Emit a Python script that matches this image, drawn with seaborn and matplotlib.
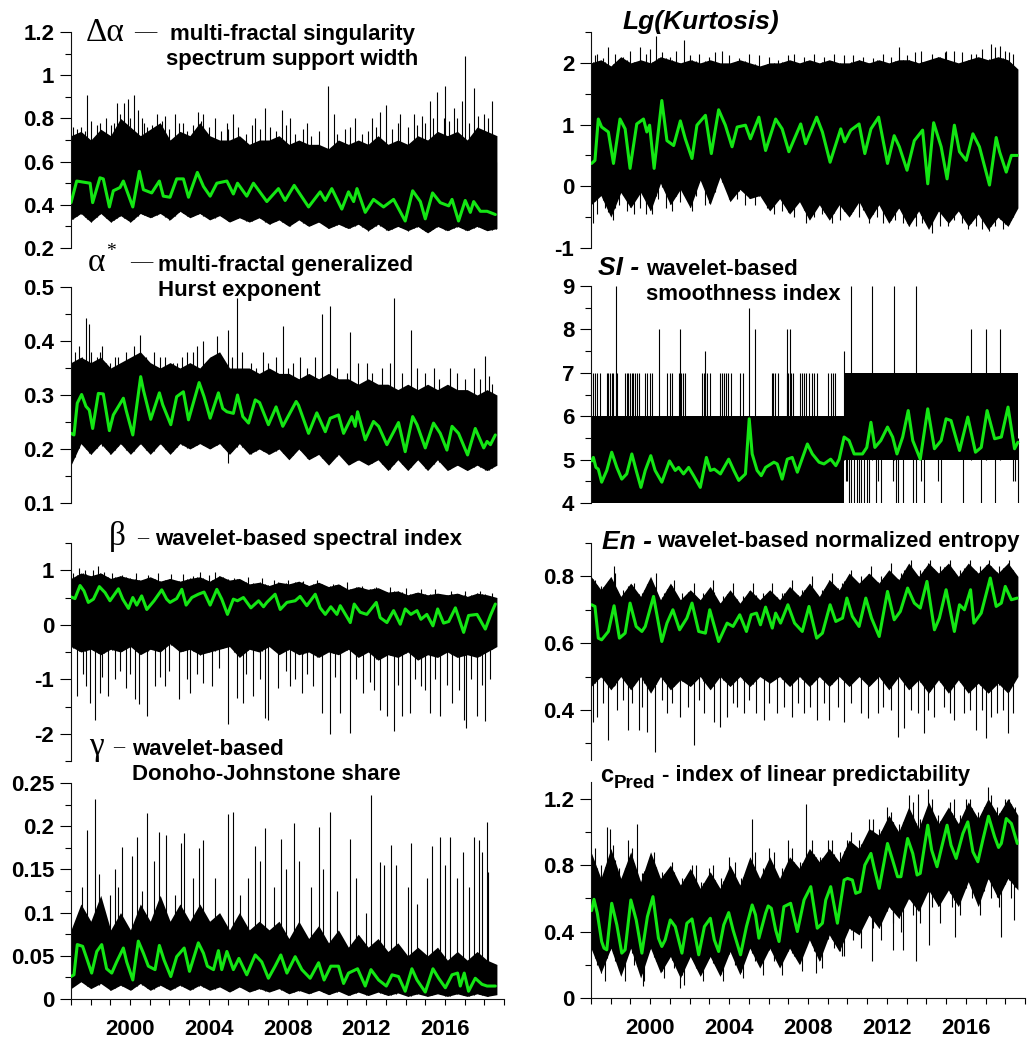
import numpy as np
import matplotlib
matplotlib.use("Agg")
import matplotlib.pyplot as plt
from matplotlib.ticker import MultipleLocator, FuncFormatter
import seaborn as sns

# envelope grid (about half-year steps over the data span)
env_x = np.linspace(1997.0, 2018.64, 44)

# ---------- Δα ----------
da_hi = [0.72, 0.74, 0.70, 0.75, 0.72, 0.80, 0.76, 0.72, 0.75, 0.78, 0.70,
         0.74, 0.72, 0.78, 0.72, 0.70, 0.70, 0.72, 0.68, 0.70, 0.70, 0.72,
         0.68, 0.70, 0.68, 0.68, 0.66, 0.70, 0.68, 0.70, 0.68, 0.72, 0.68,
         0.70, 0.68, 0.72, 0.70, 0.74, 0.72, 0.74, 0.70, 0.76, 0.74, 0.72]
da_lo = [0.33, 0.36, 0.32, 0.36, 0.32, 0.35, 0.32, 0.36, 0.34, 0.36, 0.33,
         0.37, 0.34, 0.36, 0.33, 0.35, 0.32, 0.34, 0.32, 0.34, 0.31, 0.33,
         0.30, 0.33, 0.30, 0.32, 0.29, 0.31, 0.29, 0.31, 0.28, 0.31, 0.28,
         0.30, 0.28, 0.30, 0.27, 0.30, 0.28, 0.30, 0.28, 0.30, 0.28, 0.29]
da_gx = [1997.00, 1997.29, 1997.97, 1998.10, 1998.47, 1998.64, 1998.95, 1999.15, 1999.49, 1999.66,
         2000.14, 2000.47, 2000.68, 2001.10, 2001.49, 2001.69, 2002.03, 2002.37, 2002.71, 2002.97,
         2003.42, 2003.73, 2004.07, 2004.41, 2004.92, 2005.25, 2005.46, 2005.93, 2006.27, 2006.95,
         2007.54, 2007.88, 2008.34, 2009.07, 2009.66, 2009.92, 2010.25, 2010.76, 2011.10, 2011.36,
         2011.53, 2011.95, 2012.37, 2012.88, 2013.39, 2013.98, 2014.36, 2014.75, 2015.00, 2015.37,
         2015.76, 2016.19, 2016.36, 2016.69, 2017.03, 2017.29, 2017.46, 2017.80, 2018.14, 2018.56]
da_gy = [0.41, 0.51, 0.50, 0.41, 0.525, 0.52, 0.39, 0.465, 0.48, 0.51,
         0.39, 0.555, 0.47, 0.455, 0.51, 0.44, 0.435, 0.52, 0.52, 0.435,
         0.55, 0.485, 0.44, 0.50, 0.51, 0.45, 0.50, 0.44, 0.50, 0.415,
         0.475, 0.42, 0.49, 0.39, 0.46, 0.42, 0.475, 0.38, 0.46, 0.415,
         0.475, 0.365, 0.425, 0.39, 0.425, 0.325, 0.465, 0.415, 0.335, 0.455,
         0.41, 0.395, 0.425, 0.325, 0.42, 0.365, 0.415, 0.37, 0.37, 0.355]
da_up_x = [1997.49, 1997.83, 1998.47, 1999.03, 1999.32, 1999.69, 1999.88, 2000.20, 2000.59, 2000.85,
           2001.36, 2001.78, 2002.29, 2002.68, 2003.47, 2003.73, 2004.32, 2004.92, 2005.25, 2006.36,
           2006.86, 2007.71, 2008.14, 2008.98, 2010.05, 2010.34, 2011.44, 2012.29, 2012.71, 2013.02,
           2013.73, 2014.41, 2014.83, 2015.25, 2015.59, 2015.93, 2016.02, 2016.44, 2016.86, 2017.03,
           2017.46, 2017.97, 2018.39,
           1997.10, 1997.30, 1997.70, 1998.00, 1998.30, 1998.80, 1999.20, 1999.50, 2000.00, 2000.40,
           2000.70, 2001.10, 2001.60, 2002.00, 2002.50, 2002.90, 2003.20, 2003.60, 2004.00, 2004.60,
           2005.00, 2005.50, 2005.90, 2006.20, 2006.60, 2007.10, 2007.40, 2007.90, 2008.40, 2008.80,
           2009.20, 2009.60, 2010.50, 2010.90, 2011.20, 2011.80, 2012.10, 2012.50, 2013.30, 2013.60,
           2014.10, 2014.60, 2015.00, 2015.40, 2016.20, 2016.60, 2017.20, 2017.70, 2018.20, 2018.60]
da_up_y = [0.76, 0.91, 0.78, 0.77, 0.87, 0.87, 0.89, 0.91, 0.80, 0.76,
           0.82, 0.81, 0.82, 0.78, 0.83, 0.82, 0.80, 0.78, 0.82, 0.80,
           0.85, 0.84, 0.80, 0.78, 0.95, 0.82, 0.80, 0.80, 0.83, 0.86,
           0.82, 0.82, 0.81, 0.88, 0.92, 0.80, 0.95, 0.85, 0.88, 1.09,
           0.94, 0.82, 0.88,
           0.76, 0.75, 0.74, 0.79, 0.77, 0.80, 0.78, 0.82, 0.80, 0.84,
           0.78, 0.77, 0.79, 0.75, 0.78, 0.74, 0.77, 0.79, 0.76, 0.74,
           0.75, 0.76, 0.73, 0.77, 0.75, 0.76, 0.74, 0.77, 0.73, 0.75,
           0.72, 0.74, 0.73, 0.75, 0.76, 0.73, 0.74, 0.76, 0.75, 0.78,
           0.76, 0.77, 0.78, 0.80, 0.79, 0.80, 0.78, 0.81, 0.80, 0.60]

# ---------- α* ----------
as_hi = [0.36, 0.37, 0.36, 0.37, 0.35, 0.36, 0.37, 0.38, 0.36, 0.35, 0.36,
         0.35, 0.36, 0.35, 0.37, 0.38, 0.35, 0.35, 0.35, 0.34, 0.35, 0.34,
         0.34, 0.33, 0.34, 0.33, 0.34, 0.33, 0.33, 0.32, 0.33, 0.32, 0.32,
         0.31, 0.32, 0.31, 0.32, 0.31, 0.32, 0.31, 0.31, 0.30, 0.31, 0.30]
as_lo = [0.17, 0.21, 0.19, 0.21, 0.19, 0.21, 0.19, 0.21, 0.19, 0.21, 0.19,
         0.21, 0.20, 0.21, 0.20, 0.21, 0.19, 0.21, 0.19, 0.20, 0.19, 0.20,
         0.18, 0.20, 0.18, 0.19, 0.17, 0.19, 0.17, 0.18, 0.17, 0.18, 0.16,
         0.18, 0.16, 0.18, 0.16, 0.18, 0.16, 0.17, 0.16, 0.17, 0.16, 0.17]
as_gx = [1997.00, 1997.15, 1997.32, 1997.54, 1997.76, 1997.93, 1998.10, 1998.39, 1998.64, 1998.95,
         1999.15, 1999.66, 1999.80, 2000.14, 2000.54, 2000.68, 2001.05, 2001.49, 2001.66, 2002.07,
         2002.37, 2002.71, 2002.97, 2003.51, 2003.76, 2004.07, 2004.49, 2004.71, 2004.92, 2005.25,
         2005.46, 2005.73, 2006.02, 2006.36, 2006.58, 2007.03, 2007.42, 2007.76, 2008.44, 2008.56,
         2009.07, 2009.49, 2009.92, 2010.17, 2010.59, 2010.85, 2011.27, 2011.44, 2011.56, 2011.95,
         2012.37, 2012.63, 2013.05, 2013.64, 2013.98, 2014.36, 2014.58, 2015.00, 2015.42, 2015.76,
         2016.10, 2016.36, 2016.69, 2017.15, 2017.54, 2017.97, 2018.14, 2018.31, 2018.56]
as_gy = [0.229, 0.226, 0.285, 0.301, 0.279, 0.272, 0.238, 0.303, 0.302, 0.234,
         0.263, 0.294, 0.272, 0.226, 0.334, 0.309, 0.255, 0.304, 0.282, 0.245,
         0.297, 0.306, 0.254, 0.323, 0.297, 0.257, 0.304, 0.275, 0.269, 0.266,
         0.300, 0.260, 0.248, 0.291, 0.286, 0.245, 0.278, 0.242, 0.288, 0.281,
         0.229, 0.267, 0.232, 0.257, 0.263, 0.229, 0.260, 0.242, 0.269, 0.217,
         0.251, 0.242, 0.208, 0.249, 0.195, 0.260, 0.245, 0.202, 0.248, 0.229,
         0.198, 0.242, 0.229, 0.189, 0.238, 0.202, 0.214, 0.208, 0.226]
as_up_x = [1997.54, 1997.76, 1997.93, 1998.47, 1998.78, 1999.24, 1999.53, 2000.51, 2001.53, 2002.20,
           2002.63, 2003.39, 2004.44, 2005.00, 2005.42, 2006.14, 2006.78, 2007.76, 2008.64, 2009.75,
           2010.17, 2011.19, 2012.03, 2013.42, 2014.27, 2015.42, 2016.27, 2017.46, 2018.05, 2018.22,
           1997.20, 1997.40, 1998.00, 1998.30, 1998.60, 1999.00, 1999.40, 1999.80, 2000.20, 2000.80,
           2001.20, 2001.80, 2002.40, 2002.90, 2003.20, 2003.70, 2004.10, 2004.70, 2005.20, 2005.70,
           2006.40, 2007.00, 2007.40, 2008.00, 2008.30, 2009.00, 2009.40, 2010.50, 2011.00, 2011.60,
           2012.30, 2012.80, 2013.20, 2013.80, 2014.60, 2015.00, 2015.70, 2016.60, 2017.00, 2017.80,
           2018.40]
as_up_y = [0.37, 0.443, 0.432, 0.38, 0.36, 0.37, 0.36, 0.412, 0.37, 0.36,
           0.37, 0.39, 0.41, 0.42, 0.48, 0.36, 0.38, 0.427, 0.37, 0.45,
           0.464, 0.417, 0.36, 0.48, 0.42, 0.35, 0.35, 0.35, 0.372, 0.335,
           0.38, 0.39, 0.38, 0.37, 0.39, 0.36, 0.37, 0.38, 0.39, 0.37,
           0.38, 0.37, 0.36, 0.38, 0.38, 0.40, 0.37, 0.36, 0.37, 0.38,
           0.35, 0.36, 0.37, 0.35, 0.36, 0.35, 0.37, 0.35, 0.34, 0.36,
           0.34, 0.35, 0.36, 0.34, 0.35, 0.34, 0.33, 0.34, 0.33, 0.33,
           0.32]
as_dn_x = [2005.00]
as_dn_y = [0.174]

# ---------- β ----------
be_hi = [0.85, 0.95, 0.90, 0.95, 0.85, 0.90, 0.85, 0.82, 0.88, 0.80, 0.85,
         0.80, 0.85, 0.88, 0.80, 0.90, 0.82, 0.85, 0.75, 0.78, 0.72, 0.78,
         0.75, 0.80, 0.72, 0.78, 0.70, 0.75, 0.65, 0.70, 0.65, 0.68, 0.60,
         0.62, 0.55, 0.60, 0.55, 0.58, 0.55, 0.58, 0.52, 0.58, 0.55, 0.50]
be_lo = [-0.40, -0.50, -0.45, -0.55, -0.45, -0.50, -0.40, -0.55, -0.45, -0.50, -0.35,
         -0.50, -0.45, -0.55, -0.50, -0.45, -0.40, -0.60, -0.45, -0.50, -0.40, -0.55,
         -0.45, -0.55, -0.50, -0.60, -0.50, -0.55, -0.45, -0.60, -0.50, -0.65, -0.55,
         -0.60, -0.50, -0.65, -0.55, -0.60, -0.50, -0.60, -0.55, -0.60, -0.50, -0.40]
be_gx = [1997.00, 1997.20, 1997.46, 1997.66, 1997.88, 1998.14, 1998.44, 1998.73, 1998.98, 1999.41,
         1999.63, 1999.92, 2000.14, 2000.34, 2000.59, 2000.85, 2001.22, 2001.61, 2001.86, 2002.03,
         2002.37, 2002.63, 2002.85, 2003.14, 2003.47, 2003.76, 2004.07, 2004.41, 2004.66, 2004.95,
         2005.25, 2005.46, 2005.76, 2006.14, 2006.53, 2006.78, 2006.95, 2007.37, 2007.63, 2007.97,
         2008.39, 2008.64, 2008.98, 2009.41, 2009.66, 2009.92, 2010.20, 2010.51, 2010.68, 2011.19,
         2011.39, 2011.69, 2012.03, 2012.51, 2012.71, 2013.05, 2013.39, 2013.73, 2013.98, 2014.27,
         2014.58, 2014.78, 2015.08, 2015.39, 2015.63, 2015.93, 2016.19, 2016.53, 2016.95, 2017.20,
         2017.63, 2018.05, 2018.31, 2018.56]
be_gy = [0.51, 0.48, 0.72, 0.62, 0.41, 0.47, 0.70, 0.59, 0.44, 0.66,
         0.47, 0.30, 0.50, 0.36, 0.53, 0.28, 0.44, 0.64, 0.47, 0.41,
         0.48, 0.65, 0.36, 0.50, 0.56, 0.60, 0.36, 0.65, 0.47, 0.19,
         0.47, 0.44, 0.50, 0.31, 0.44, 0.33, 0.41, 0.56, 0.28, 0.41,
         0.44, 0.52, 0.35, 0.56, 0.31, 0.19, 0.33, 0.19, 0.35, 0.04,
         0.38, 0.23, 0.19, 0.41, 0.13, 0.04, 0.26, 0.01, 0.29, 0.19,
         0.26, 0.10, 0.19, -0.02, 0.29, 0.03, 0.06, 0.31, -0.14, 0.17,
         0.19, -0.08, 0.17, 0.38]
be_up_x = [1997.41, 1998.36, 2003.53, 2004.32,
           1997.10, 1997.70, 1998.10, 1998.70, 1999.10, 1999.60, 2000.30, 2000.90, 2001.40, 2002.10,
           2002.70, 2003.20, 2004.00, 2004.70, 2005.30, 2006.00, 2006.70, 2007.30, 2008.00, 2008.80,
           2009.50, 2010.30, 2011.00, 2011.80, 2012.50, 2013.20, 2014.00, 2014.80, 2015.50, 2016.30,
           2017.00, 2017.80, 2018.40]
be_up_y = [1.05, 1.08, 0.97, 0.97,
           0.95, 1.00, 1.00, 0.97, 0.95, 0.92, 0.95, 0.92, 0.95, 0.93,
           0.93, 0.90, 0.92, 0.88, 0.85, 0.88, 0.85, 0.83, 0.82, 0.80,
           0.82, 0.75, 0.78, 0.72, 0.70, 0.70, 0.68, 0.66, 0.65, 0.62,
           0.62, 0.62, 0.58]
be_dn_x = [1997.32, 1997.76, 1997.97, 1998.22, 1998.47, 1998.90, 1999.24, 1999.80, 2000.25, 2000.47,
           2000.85, 2001.27, 2001.78, 2002.51, 2003.05, 2003.73, 2004.15, 2004.97, 2005.42, 2005.76,
           2006.27, 2006.86, 2007.03, 2007.54, 2008.14, 2008.73, 2009.32, 2009.75, 2010.17, 2010.68,
           2011.19, 2011.86, 2012.71, 2013.05, 2013.39, 2013.81, 2014.24, 2014.78, 2015.25, 2015.76,
           2016.36, 2016.95, 2017.08, 2017.63, 2018.05,
           1997.60, 1998.60, 1999.50, 2000.00, 2001.50, 2002.00, 2002.90, 2003.40, 2004.50, 2005.90,
           2006.60, 2007.90, 2008.40, 2009.00, 2010.40, 2011.50, 2012.20, 2012.40, 2013.60, 2014.50,
           2015.00, 2015.50, 2016.10, 2016.70, 2017.30, 2017.90, 2018.30]
be_dn_y = [-1.30, -1.12, -1.43, -1.74, -1.25, -1.30, -1.00, -1.16, -1.37, -1.46,
           -1.68, -1.12, -1.12, -1.37, -1.25, -1.06, -1.12, -1.83, -1.34, -1.43,
           -1.31, -1.71, -1.74, -1.16, -1.12, -1.25, -1.12, -1.62, -2.01, -1.62,
           -1.98, -1.25, -1.56, -1.68, -1.95, -1.68, -1.62, -1.12, -1.62, -1.68,
           -1.43, -1.74, -1.89, -1.68, -1.77,
           -0.90, -0.95, -0.85, -0.90, -0.95, -0.85, -1.00, -0.90, -0.80, -0.90,
           -1.00, -0.85, -1.00, -0.90, -0.95, -1.00, -1.05, -1.20, -1.10, -1.00,
           -1.20, -1.00, -1.10, -1.20, -1.00, -1.10, -1.00]

# ---------- γ ----------
ga_hi = [0.080, 0.110, 0.090, 0.120, 0.080, 0.100, 0.080, 0.110, 0.090, 0.120, 0.090,
         0.110, 0.090, 0.110, 0.090, 0.100, 0.080, 0.100, 0.080, 0.090, 0.080, 0.090,
         0.070, 0.090, 0.070, 0.085, 0.065, 0.080, 0.060, 0.075, 0.060, 0.070, 0.055,
         0.065, 0.050, 0.060, 0.050, 0.060, 0.045, 0.055, 0.045, 0.055, 0.045, 0.040]
ga_lo = [0.012, 0.020, 0.012, 0.018, 0.010, 0.016, 0.010, 0.018, 0.010, 0.016, 0.010,
         0.016, 0.010, 0.016, 0.010, 0.014, 0.008, 0.014, 0.008, 0.012, 0.008, 0.012,
         0.006, 0.010, 0.006, 0.010, 0.005, 0.009, 0.004, 0.008, 0.004, 0.008, 0.004,
         0.007, 0.003, 0.006, 0.003, 0.006, 0.003, 0.006, 0.003, 0.006, 0.003, 0.005]
ga_gx = [1997.00, 1997.15, 1997.32, 1997.59, 1997.83, 1998.05, 1998.31, 1998.56, 1998.81, 1999.07,
         1999.32, 1999.66, 1999.83, 2000.14, 2000.42, 2000.68, 2000.93, 2001.27, 2001.49, 2001.73,
         2002.07, 2002.37, 2002.75, 2003.02, 2003.47, 2003.73, 2003.93, 2004.24, 2004.49, 2004.66,
         2004.92, 2005.25, 2005.53, 2005.93, 2006.36, 2006.69, 2007.03, 2007.37, 2007.66, 2007.97,
         2008.39, 2008.73, 2009.15, 2009.58, 2009.86, 2010.20, 2010.59, 2010.85, 2011.10, 2011.56,
         2011.95, 2012.24, 2012.63, 2013.02, 2013.31, 2013.64, 2013.98, 2014.32, 2014.58, 2015.00,
         2015.39, 2015.68, 2016.02, 2016.36, 2016.64, 2016.78, 2016.98, 2017.20, 2017.54, 2017.88,
         2018.14, 2018.56]
ga_gy = [0.026, 0.028, 0.063, 0.061, 0.045, 0.030, 0.055, 0.063, 0.035, 0.030,
         0.043, 0.059, 0.043, 0.022, 0.067, 0.053, 0.038, 0.034, 0.062, 0.045,
         0.026, 0.049, 0.059, 0.032, 0.065, 0.053, 0.038, 0.034, 0.056, 0.034,
         0.055, 0.034, 0.047, 0.028, 0.051, 0.043, 0.024, 0.038, 0.051, 0.030,
         0.049, 0.034, 0.024, 0.042, 0.022, 0.038, 0.038, 0.018, 0.030, 0.035,
         0.015, 0.034, 0.022, 0.015, 0.028, 0.026, 0.009, 0.035, 0.022, 0.008,
         0.035, 0.024, 0.013, 0.028, 0.030, 0.015, 0.030, 0.009, 0.024, 0.017,
         0.015, 0.015]
ga_up_x = [1997.83, 1998.22, 1999.24, 1999.59, 2000.37, 2000.85, 2001.49, 2001.83, 2002.75, 2003.69,
           2004.97, 2005.22, 2006.36, 2006.86, 2007.68, 2008.34, 2009.58, 2010.17, 2011.19, 2012.25,
           2012.71, 2013.25, 2014.27, 2015.34, 2015.73, 2016.27, 2017.46, 2017.75, 2018.14, 2018.19,
           1997.55, 1998.40, 1999.00, 1999.40, 2000.10, 2000.60, 2001.20, 2002.30, 2002.60, 2003.20,
           2003.50, 2004.30, 2005.60, 2006.00, 2006.60, 2007.30, 2007.90, 2008.60, 2009.20, 2009.80,
           2010.50, 2011.50, 2012.00, 2012.90, 2013.50, 2014.10, 2014.60, 2015.10, 2016.00, 2016.60,
           2016.90, 2017.20, 2017.90]
ga_up_y = [0.196, 0.232, 0.151, 0.176, 0.188, 0.215, 0.193, 0.190, 0.192, 0.184,
           0.214, 0.217, 0.177, 0.198, 0.185, 0.204, 0.199, 0.217, 0.185, 0.236,
           0.159, 0.178, 0.180, 0.177, 0.188, 0.188, 0.188, 0.184, 0.205, 0.147,
           0.130, 0.145, 0.120, 0.130, 0.165, 0.125, 0.160, 0.120, 0.180, 0.140,
           0.175, 0.140, 0.120, 0.140, 0.160, 0.130, 0.150, 0.160, 0.130, 0.150,
           0.125, 0.140, 0.100, 0.155, 0.155, 0.130, 0.110, 0.140, 0.155, 0.140,
           0.170, 0.130, 0.170]

# ---------- Lg(Kurtosis) ----------
lk_hi = [2.00, 2.05, 1.95, 2.10, 2.00, 2.05, 2.00, 2.10, 2.05, 2.00, 2.05,
         2.00, 2.05, 2.00, 2.00, 2.05, 2.00, 1.95, 2.00, 2.00, 2.05, 2.00,
         2.05, 2.00, 2.05, 2.00, 2.00, 2.05, 2.00, 2.05, 2.00, 2.05, 2.05,
         2.00, 2.05, 2.10, 2.05, 2.00, 2.05, 2.10, 2.05, 2.10, 2.05, 1.90]
lk_lo = [-0.30, -0.15, -0.50, -0.10, -0.35, -0.10, -0.40, 0.05, -0.30, -0.05, -0.35,
         0.10, -0.30, 0.15, -0.25, -0.05, -0.20, -0.15, -0.40, -0.20, -0.45, -0.25,
         -0.55, -0.30, -0.55, -0.30, -0.50, -0.25, -0.55, -0.30, -0.60, -0.35, -0.65,
         -0.40, -0.70, -0.40, -0.60, -0.40, -0.65, -0.45, -0.70, -0.50, -0.65, -0.35]
lk_gx = [1997.03, 1997.20, 1997.37, 1997.54, 1997.88, 1998.14, 1998.47, 1998.73, 1998.98, 1999.32,
         1999.66, 1999.83, 1999.97, 2000.20, 2000.59, 2000.85, 2001.19, 2001.53, 2001.78, 2002.12,
         2002.37, 2002.80, 2003.10, 2003.47, 2003.81, 2004.15, 2004.41, 2004.83, 2005.08, 2005.51,
         2005.85, 2006.36, 2006.69, 2007.03, 2007.63, 2007.88, 2008.44, 2008.73, 2009.12, 2009.66,
         2009.86, 2010.17, 2010.59, 2010.88, 2011.19, 2011.58, 2012.03, 2012.37, 2012.63, 2013.02,
         2013.39, 2013.81, 2014.07, 2014.37, 2014.75, 2015.05, 2015.42, 2015.68, 2016.02, 2016.36,
         2016.69, 2017.20, 2017.54, 2017.71, 2018.05, 2018.31, 2018.61]
lk_gy = [0.37, 0.42, 1.09, 0.96, 0.88, 0.37, 1.09, 0.93, 0.29, 1.01,
         1.09, 0.88, 0.99, 0.29, 1.39, 0.74, 0.66, 1.06, 0.77, 0.45,
         0.99, 1.15, 0.53, 1.24, 0.99, 0.64, 0.96, 0.99, 0.77, 1.12,
         0.58, 1.09, 0.93, 0.56, 1.01, 0.69, 1.12, 0.88, 0.39, 0.93,
         0.72, 0.91, 1.01, 0.53, 0.93, 1.12, 0.37, 0.82, 0.64, 0.26,
         0.74, 0.91, 0.04, 1.03, 0.64, 0.12, 0.99, 0.56, 0.42, 0.85,
         0.64, 0.02, 0.79, 0.56, 0.23, 0.50, 0.50]
lk_up_x = [1997.29, 1997.88, 1999.49, 2000.00, 2000.29, 2001.69, 2003.64, 2007.29, 2009.83,
           2012.61, 2013.73, 2014.92, 2015.42, 2016.27, 2017.27, 2017.71, 2018.39,
           1997.20, 1997.60, 1998.20, 1998.60, 1999.00, 1999.80, 2000.60, 2001.00, 2001.30, 2002.00,
           2002.50, 2003.00, 2003.30, 2004.00, 2004.50, 2005.00, 2005.50, 2006.00, 2006.50, 2007.00,
           2007.80, 2008.30, 2008.80, 2009.30, 2010.30, 2010.80, 2011.30, 2011.80, 2012.20, 2013.00,
           2013.40, 2014.30, 2014.60, 2015.00, 2015.80, 2016.50, 2016.80, 2017.50, 2018.00, 2018.20]
lk_up_y = [2.15, 2.25, 2.25, 2.22, 2.43, 2.37, 2.20, 2.15, 2.12,
           2.25, 2.20, 2.18, 2.20, 2.15, 2.31, 2.28, 2.15,
           2.12, 2.08, 2.15, 2.10, 2.20, 2.15, 2.18, 2.10, 2.20, 2.12,
           2.15, 2.10, 2.17, 2.12, 2.08, 2.15, 2.12, 2.10, 2.05, 2.12,
           2.10, 2.15, 2.10, 2.15, 2.12, 2.10, 2.08, 2.15, 2.10, 2.12,
           2.18, 2.15, 2.10, 2.20, 2.18, 2.15, 2.22, 2.25, 2.20, 2.18]
lk_dn_x = [1997.10, 1998.10, 1999.20, 2000.10, 2001.10, 2002.10, 2005.90, 2007.90,
           2009.20, 2011.10, 2013.10, 2014.30, 2015.10, 2016.10, 2017.20, 2017.90,
           1997.30, 1997.70, 1998.40, 1998.80, 1999.50, 1999.80, 2000.40, 2000.80, 2001.50, 2002.30,
           2002.80, 2003.30, 2004.40, 2004.80, 2005.30, 2006.30, 2006.70, 2007.30, 2008.30, 2008.70,
           2009.60, 2010.20, 2010.60, 2011.50, 2011.80, 2012.40, 2012.80, 2013.50, 2013.80, 2014.70,
           2015.40, 2015.80, 2016.50, 2016.80, 2017.50, 2018.30]
lk_dn_y = [-0.60, -0.55, -0.45, -0.45, -0.40, -0.40, -0.35, -0.60,
           -0.60, -0.60, -0.65, -0.75, -0.65, -0.70, -0.72, -0.70,
           -0.45, -0.35, -0.30, -0.40, -0.35, -0.45, -0.20, -0.35, -0.25, -0.15,
           -0.30, -0.10, -0.20, -0.30, -0.30, -0.45, -0.40, -0.50, -0.50, -0.45,
           -0.55, -0.45, -0.50, -0.50, -0.60, -0.55, -0.60, -0.65, -0.60, -0.65,
           -0.55, -0.60, -0.65, -0.70, -0.65, -0.55]

# ---------- SI (integer valued) ----------
si_band_x = [1997.0, 2009.8, 2018.64]
si_band_lo = [4, 5, 5]
si_band_hi = [6, 7, 7]
si_top7_x = [1997.12, 1997.20, 1997.32, 1997.46, 1997.80, 1997.88, 1997.97, 1998.05, 1998.14, 1998.27,
             1998.34, 1998.73, 1998.81, 1998.90, 1998.98, 1999.07, 1999.15, 1999.24, 1999.32, 1999.41,
             1999.75, 1999.83, 1999.97, 2000.08, 2000.85, 2000.98, 2001.10, 2001.44, 2001.56, 2001.66,
             2001.78, 2002.63, 2002.71, 2002.80, 2002.88, 2003.02, 2003.53, 2003.64, 2003.73, 2003.86,
             2003.97, 2004.08, 2004.56, 2004.69, 2006.15, 2006.24, 2006.32, 2006.49, 2006.92, 2007.00,
             2007.14, 2007.24, 2007.61, 2007.69, 2007.78, 2007.92, 2008.03, 2008.20, 2008.32, 2008.44,
             2009.03, 2009.15, 2009.25, 2009.37]
si_up_x = [1998.27, 2000.46, 2001.53, 2002.80, 2005.00, 2005.31, 2006.92, 2007.08,
           2009.80, 2010.17, 2011.24, 2012.34, 2013.46, 2016.24, 2017.03, 2017.75]
si_up_y = [9, 8, 8, 7.5, 8.5, 8, 8, 8, 7.5, 9, 9, 9, 9, 8, 8, 8]
si_dn_x = [2009.92, 2010.00, 2010.08, 2010.20, 2010.34, 2010.47, 2010.59, 2010.71, 2010.85, 2010.98,
           2011.10, 2011.44, 2011.53, 2011.69, 2012.29, 2012.46, 2012.58, 2012.80, 2013.31, 2013.47,
           2013.73, 2013.90, 2014.58, 2014.75, 2015.85, 2016.78, 2017.46, 2018.39, 2018.51, 2018.64]
si_dn_y = [4.5, 4.5, 4, 4, 4, 4, 4, 4, 4, 4,
           4, 4, 4.5, 4, 4.5, 4, 4, 4, 4, 4,
           4.5, 4, 4.5, 4, 4, 4, 4, 4.5, 4.5, 4]
si_gx = [1997.03, 1997.12, 1997.25, 1997.37, 1997.54, 1997.80, 1998.05, 1998.31, 1998.56, 1998.81,
         1999.07, 1999.29, 1999.53, 1999.75, 2000.03, 2000.25, 2000.59, 2000.98, 2001.27, 2001.44,
         2001.69, 2001.95, 2002.20, 2002.54, 2002.85, 2003.05, 2003.25, 2003.56, 2003.98, 2004.24,
         2004.49, 2004.83, 2005.02, 2005.17, 2005.42, 2005.63, 2005.85, 2006.27, 2006.44, 2006.69,
         2006.95, 2007.20, 2007.46, 2007.97, 2008.22, 2008.56, 2008.81, 2009.15, 2009.41, 2009.58,
         2009.83, 2010.08, 2010.34, 2010.76, 2010.98, 2011.19, 2011.39, 2011.69, 2012.03, 2012.29,
         2012.51, 2012.80, 2013.08, 2013.31, 2013.69, 2014.07, 2014.41, 2014.75, 2015.00, 2015.25,
         2015.68, 2016.10, 2016.49, 2016.78, 2017.08, 2017.46, 2017.80, 2018.14, 2018.47, 2018.64]
si_gy = [4.97, 5.05, 4.82, 4.78, 4.48, 4.75, 5.17, 4.82, 4.55, 4.67,
         5.13, 4.75, 4.36, 4.75, 5.09, 4.75, 4.48, 4.97, 4.75, 4.82,
         4.67, 4.82, 4.63, 4.36, 5.05, 4.75, 4.78, 4.67, 5.01, 4.75,
         4.52, 4.67, 5.94, 5.13, 4.75, 4.63, 4.82, 4.94, 4.90, 4.55,
         5.01, 5.05, 4.71, 5.36, 5.13, 4.94, 4.90, 5.01, 4.86, 5.01,
         5.52, 5.44, 5.13, 5.13, 5.28, 5.86, 5.28, 5.44, 5.75, 5.52,
         5.13, 5.52, 6.13, 5.44, 5.01, 6.17, 5.25, 5.44, 5.94, 5.90,
         5.21, 5.98, 5.17, 5.28, 6.13, 5.48, 5.52, 6.21, 5.25, 5.40]

# ---------- En ----------
en_hi = [0.80, 0.76, 0.80, 0.74, 0.78, 0.74, 0.80, 0.73, 0.78, 0.73, 0.76,
         0.73, 0.77, 0.72, 0.76, 0.72, 0.76, 0.73, 0.76, 0.73, 0.77, 0.74,
         0.78, 0.74, 0.79, 0.76, 0.81, 0.78, 0.81, 0.78, 0.82, 0.79, 0.84,
         0.80, 0.84, 0.81, 0.84, 0.80, 0.84, 0.81, 0.84, 0.81, 0.84, 0.80]
en_lo = [0.47, 0.50, 0.46, 0.50, 0.46, 0.50, 0.45, 0.50, 0.46, 0.49, 0.47,
         0.50, 0.46, 0.50, 0.47, 0.50, 0.47, 0.50, 0.48, 0.50, 0.47, 0.50,
         0.47, 0.50, 0.47, 0.50, 0.47, 0.50, 0.47, 0.50, 0.46, 0.50, 0.46,
         0.49, 0.45, 0.49, 0.45, 0.49, 0.45, 0.48, 0.45, 0.48, 0.45, 0.50]
en_gx = [1997.03, 1997.20, 1997.37, 1997.54, 1997.88, 1998.17, 1998.44, 1998.73, 1998.98, 1999.29,
         1999.58, 1999.75, 2000.17, 2000.59, 2000.85, 2001.15, 2001.49, 2001.86, 2002.12, 2002.46,
         2002.80, 2003.02, 2003.47, 2003.90, 2004.20, 2004.54, 2004.88, 2005.12, 2005.39, 2005.59,
         2005.85, 2006.19, 2006.36, 2006.61, 2006.98, 2007.32, 2007.71, 2008.05, 2008.44, 2008.73,
         2009.12, 2009.41, 2009.75, 2009.97, 2010.25, 2010.59, 2010.93, 2011.22, 2011.61, 2012.03,
         2012.37, 2012.68, 2013.05, 2013.39, 2013.69, 2014.03, 2014.41, 2014.66, 2015.00, 2015.42,
         2015.68, 2015.93, 2016.24, 2016.41, 2016.78, 2017.24, 2017.54, 2017.80, 2018.00, 2018.31,
         2018.61]
en_gy = [0.715, 0.710, 0.615, 0.610, 0.635, 0.712, 0.615, 0.630, 0.720, 0.650,
         0.635, 0.650, 0.740, 0.605, 0.660, 0.700, 0.640, 0.675, 0.720, 0.635,
         0.630, 0.700, 0.605, 0.660, 0.650, 0.685, 0.635, 0.685, 0.690, 0.655,
         0.708, 0.645, 0.690, 0.660, 0.715, 0.660, 0.635, 0.710, 0.615, 0.630,
         0.715, 0.665, 0.675, 0.735, 0.680, 0.650, 0.735, 0.675, 0.620, 0.755,
         0.670, 0.695, 0.765, 0.720, 0.705, 0.785, 0.640, 0.675, 0.760, 0.635,
         0.715, 0.700, 0.760, 0.660, 0.690, 0.795, 0.710, 0.720, 0.770, 0.730,
         0.735]
en_up_x = [1998.17,
           1997.20, 1997.50, 1998.20, 1998.60, 1999.20, 1999.70, 2000.30, 2000.70, 2001.20, 2001.60,
           2002.20, 2002.70, 2003.20, 2003.70, 2004.20, 2004.70, 2005.20, 2005.70, 2006.20, 2006.70,
           2007.20, 2007.70, 2008.20, 2008.70, 2009.20, 2009.70, 2010.20, 2010.70, 2011.20, 2011.70,
           2012.20, 2012.70, 2013.20, 2013.70, 2014.20, 2014.70, 2015.20, 2015.70, 2016.20, 2016.70,
           2017.20, 2017.70, 2018.20]
en_up_y = [0.832,
           0.79, 0.77, 0.81, 0.76, 0.78, 0.76, 0.81, 0.75, 0.79, 0.75,
           0.78, 0.75, 0.79, 0.74, 0.78, 0.74, 0.78, 0.75, 0.78, 0.75,
           0.79, 0.76, 0.80, 0.76, 0.81, 0.78, 0.82, 0.80, 0.83, 0.80,
           0.84, 0.81, 0.85, 0.82, 0.85, 0.83, 0.85, 0.82, 0.85, 0.83,
           0.85, 0.83, 0.85]
en_dn_x = [1997.08, 1997.32, 1997.85, 1998.34, 1998.90, 1999.41, 1999.83, 2000.25, 2000.85, 2001.53,
           2002.20, 2002.71, 2003.22, 2003.56, 2003.90, 2004.75, 2005.34, 2005.76, 2006.44, 2007.20,
           2007.80, 2008.47, 2009.07, 2009.83, 2010.68, 2011.02, 2011.53, 2012.54, 2012.88, 2013.90,
           2014.41, 2015.42, 2015.93, 2016.53, 2017.03, 2017.29, 2018.14, 2018.39,
           1997.60, 1998.60, 1999.10, 1999.60, 2000.60, 2001.10, 2001.90, 2002.50, 2004.20, 2004.40,
           2005.00, 2006.00, 2006.80, 2007.50, 2008.10, 2008.80, 2009.50, 2010.20, 2011.80, 2012.20,
           2013.20, 2013.60, 2014.10, 2014.90, 2015.20, 2016.20, 2016.80, 2017.60, 2017.90]
en_dn_y = [0.365, 0.380, 0.310, 0.400, 0.340, 0.340, 0.335, 0.275, 0.390, 0.380,
           0.295, 0.390, 0.365, 0.350, 0.380, 0.390, 0.390, 0.370, 0.390, 0.380,
           0.390, 0.370, 0.370, 0.365, 0.390, 0.375, 0.390, 0.320, 0.345, 0.330,
           0.380, 0.370, 0.390, 0.340, 0.315, 0.380, 0.330, 0.390,
           0.42, 0.43, 0.42, 0.41, 0.43, 0.42, 0.41, 0.43, 0.42, 0.41,
           0.43, 0.42, 0.41, 0.42, 0.41, 0.42, 0.41, 0.42, 0.41, 0.40,
           0.40, 0.39, 0.40, 0.41, 0.39, 0.40, 0.40, 0.39, 0.40]

# ---------- cPred ----------
cp_hi = [0.88, 0.72, 0.90, 0.72, 0.88, 0.70, 0.88, 0.72, 0.80, 0.68, 0.78,
         0.66, 0.76, 0.66, 0.80, 0.68, 0.85, 0.72, 0.85, 0.72, 0.85, 0.78,
         0.90, 0.82, 0.90, 0.82, 0.95, 0.90, 1.02, 0.98, 1.10, 1.00, 1.15,
         1.02, 1.18, 1.05, 1.15, 1.05, 1.18, 1.08, 1.20, 1.10, 1.20, 1.10]
cp_lo = [0.30, 0.15, 0.30, 0.13, 0.30, 0.12, 0.30, 0.15, 0.25, 0.12, 0.25,
         0.13, 0.25, 0.13, 0.28, 0.14, 0.30, 0.18, 0.30, 0.18, 0.30, 0.20,
         0.35, 0.22, 0.38, 0.28, 0.42, 0.38, 0.50, 0.42, 0.55, 0.48, 0.60,
         0.52, 0.65, 0.55, 0.65, 0.55, 0.70, 0.55, 0.72, 0.60, 0.72, 0.65]
cp_gx = [1997.03, 1997.15, 1997.32, 1997.54, 1997.66, 1997.80, 1998.05, 1998.31, 1998.56, 1998.73,
         1999.02, 1999.29, 1999.58, 1999.86, 2000.14, 2000.42, 2000.59, 2000.76, 2001.02, 2001.27,
         2001.61, 2001.86, 2002.12, 2002.46, 2002.75, 2003.05, 2003.25, 2003.47, 2003.73, 2003.98,
         2004.20, 2004.58, 2004.88, 2005.17, 2005.34, 2005.51, 2005.85, 2005.98, 2006.14, 2006.36,
         2006.53, 2006.78, 2007.12, 2007.46, 2007.80, 2008.14, 2008.47, 2008.73, 2008.90, 2009.15,
         2009.49, 2009.83, 2010.00, 2010.25, 2010.42, 2010.64, 2010.88, 2011.19, 2011.36, 2011.61,
         2012.03, 2012.29, 2012.54, 2012.71, 2013.05, 2013.31, 2013.53, 2013.69, 2014.07, 2014.27,
         2014.54, 2014.78, 2015.05, 2015.25, 2015.51, 2015.85, 2016.10, 2016.36, 2016.61, 2016.86,
         2017.15, 2017.46, 2017.66, 2017.80, 2018.05, 2018.31, 2018.61]
cp_gy = [0.526, 0.594, 0.510, 0.340, 0.300, 0.290, 0.570, 0.440, 0.270, 0.290,
         0.590, 0.470, 0.270, 0.490, 0.610, 0.360, 0.310, 0.350, 0.470, 0.430,
         0.270, 0.450, 0.476, 0.260, 0.430, 0.480, 0.350, 0.280, 0.440, 0.514,
         0.410, 0.260, 0.430, 0.560, 0.500, 0.360, 0.510, 0.554, 0.540, 0.410,
         0.340, 0.550, 0.570, 0.400, 0.590, 0.670, 0.420, 0.450, 0.590, 0.670,
         0.450, 0.710, 0.720, 0.710, 0.630, 0.640, 0.800, 0.870, 0.780, 0.660,
         0.930, 0.830, 0.730, 0.730, 0.960, 0.870, 0.740, 0.750, 1.040, 0.890,
         0.790, 0.910, 1.040, 0.920, 0.840, 0.990, 1.060, 0.880, 0.820, 0.950,
         1.094, 0.970, 0.906, 0.930, 1.080, 1.050, 0.930]
cp_up_x = [1997.80, 1997.97, 1998.90, 1999.32, 2000.00, 2002.10, 2003.00, 2004.00, 2005.17, 2006.00,
           2007.00, 2007.92, 2009.00, 2010.00, 2011.10, 2012.00, 2013.14, 2013.56, 2014.07, 2015.42,
           2016.00, 2016.90, 2017.12, 2018.00,
           1997.20, 1997.50, 1998.10, 1998.40, 1999.10, 1999.60, 2000.20, 2000.60, 2001.10, 2001.60,
           2002.30, 2002.60, 2003.20, 2003.60, 2004.30, 2004.60, 2005.30, 2005.70, 2006.30, 2006.70,
           2007.20, 2007.60, 2008.20, 2008.60, 2009.20, 2009.60, 2010.20, 2010.60, 2011.30, 2011.60,
           2012.20, 2012.60, 2013.30, 2013.70, 2014.30, 2014.60, 2015.20, 2015.70, 2016.20, 2016.60,
           2017.30, 2017.60, 2018.20, 2018.50]
cp_up_y = [1.03, 1.02, 0.95, 1.05, 0.85, 0.80, 0.78, 0.85, 1.08, 0.90,
           0.95, 1.17, 0.95, 0.95, 1.08, 1.15, 1.22, 1.23, 1.26, 1.20,
           1.20, 1.15, 1.27, 1.20,
           0.90, 0.80, 0.92, 0.78, 0.90, 0.75, 0.88, 0.76, 0.82, 0.72,
           0.80, 0.70, 0.80, 0.72, 0.82, 0.72, 0.88, 0.78, 0.88, 0.78,
           0.90, 0.82, 0.95, 0.85, 0.95, 0.88, 1.00, 0.95, 1.08, 1.02,
           1.12, 1.05, 1.18, 1.08, 1.20, 1.10, 1.18, 1.10, 1.20, 1.12,
           1.22, 1.15, 1.20, 1.15]
cp_dn_x = [1999.66, 2001.53, 2008.39, 2009.83, 2011.24, 2012.29, 2012.80, 2013.47,
           2014.15, 2015.46, 2017.76, 2018.44,
           1997.30, 1997.70, 1998.20, 1998.70, 1999.20, 1999.70, 2000.30, 2000.70, 2001.20, 2001.70,
           2002.30, 2002.70, 2003.30, 2003.70, 2004.30, 2004.70, 2005.30, 2005.70, 2006.30, 2006.70,
           2007.30, 2007.70, 2008.30, 2008.70, 2009.30, 2009.70, 2010.30, 2010.70, 2011.30, 2011.70,
           2012.30, 2012.70, 2013.30, 2013.70, 2014.30, 2014.70, 2015.30, 2015.70, 2016.30, 2016.70,
           2017.30, 2017.70, 2018.30]
cp_dn_y = [0.07, 0.06, 0.15, 0.25, 0.22, 0.29, 0.29, 0.22, 0.32, 0.37, 0.37, 0.47,
           0.20, 0.10, 0.22, 0.10, 0.20, 0.10, 0.22, 0.12, 0.18, 0.08,
           0.18, 0.10, 0.20, 0.10, 0.20, 0.12, 0.22, 0.14, 0.22, 0.14,
           0.25, 0.16, 0.28, 0.18, 0.30, 0.25, 0.35, 0.30, 0.42, 0.35,
           0.45, 0.40, 0.50, 0.45, 0.55, 0.45, 0.55, 0.50, 0.60, 0.50,
           0.60, 0.55, 0.60]

# ---------- styling ----------
GREEN = "#14e614"
SERIF = ["Liberation Serif", "DejaVu Serif"]
W, H = 1029, 1040

sns.set_style("ticks")
plt.rcParams["font.family"] = ["Liberation Sans", "DejaVu Sans"]
plt.rcParams["font.weight"] = "bold"
plt.rcParams.update({"text.color": "black", "axes.labelcolor": "black",
                     "xtick.color": "black", "ytick.color": "black"})

fig = plt.figure(figsize=(W / 100, H / 100), dpi=100)


def add_ax(x0, y0, x1, y1):
    return fig.add_axes([x0 / W, 1 - y1 / H, (x1 - x0) / W, (y1 - y0) / H])


def num_fmt(v, pos):
    v = round(v, 4)
    if v == 0:
        return "0"
    return f"{v:g}"


def style_axis(ax, ylim, major, minor, bottom=False):
    ax.set_xlim(1997, 2019)
    ax.set_ylim(*ylim)
    ax.yaxis.set_major_locator(MultipleLocator(major))
    ax.yaxis.set_minor_locator(MultipleLocator(minor))
    ax.yaxis.set_major_formatter(FuncFormatter(num_fmt))
    ax.tick_params(axis="y", which="major", length=8, width=0.8, labelsize=16, pad=4)
    ax.tick_params(axis="y", which="minor", length=4.5, width=0.8)
    sns.despine(ax=ax, bottom=not bottom)
    if bottom:
        ax.xaxis.set_major_locator(MultipleLocator(4))
        ax.xaxis.set_minor_locator(MultipleLocator(1))
        ax.xaxis.set_major_formatter(FuncFormatter(lambda v, p: f"{int(round(v))}"))
        ax.tick_params(axis="x", which="both", length=4.5, width=0.8, labelsize=16, pad=10)
    else:
        ax.tick_params(axis="x", which="both", bottom=False, labelbottom=False)
    ax.set_xlabel("")
    ax.set_ylabel("")
    for s in ax.spines.values():
        s.set_linewidth(0.8)
        s.set_color("#111111")


def green_line(ax, gx, gy):
    sns.lineplot(x=gx, y=gy, ax=ax, color=GREEN, lw=2.2, sort=False,
                 estimator=None, zorder=3, solid_joinstyle="round")


def draw_series(ax, hi, lo, gx, gy, up=None, dn=None):
    ax.fill_between(env_x, lo, hi, color="black", lw=0, zorder=1)
    if up is not None:
        ux, uy = np.asarray(up[0]), np.asarray(up[1])
        ax.vlines(ux, np.interp(ux, env_x, lo), uy, color="black", lw=0.8, zorder=1)
    if dn is not None:
        dx, dy = np.asarray(dn[0]), np.asarray(dn[1])
        ax.vlines(dx, dy, np.interp(dx, env_x, hi), color="black", lw=0.8, zorder=1)
    green_line(ax, gx, gy)


def ftext(x, y, s, **kw):
    kw.setdefault("va", "center")
    kw.setdefault("ha", "left")
    fig.text(x / W, 1 - y / H, s, **kw)


# left column
ax = add_ax(71, 32, 504, 248)
draw_series(ax, da_hi, da_lo, da_gx, da_gy, up=(da_up_x, da_up_y))
style_axis(ax, (0.2, 1.2), 0.2, 0.1)

ax = add_ax(71, 287, 504, 503)
draw_series(ax, as_hi, as_lo, as_gx, as_gy, up=(as_up_x, as_up_y), dn=(as_dn_x, as_dn_y))
style_axis(ax, (0.1, 0.5), 0.1, 0.05)

ax = add_ax(71, 543, 504, 761)
draw_series(ax, be_hi, be_lo, be_gx, be_gy, up=(be_up_x, be_up_y), dn=(be_dn_x, be_dn_y))
style_axis(ax, (-2.5, 1.5), 1, 0.5)

ax = add_ax(71, 783, 504, 999)
draw_series(ax, ga_hi, ga_lo, ga_gx, ga_gy, up=(ga_up_x, ga_up_y))
style_axis(ax, (0, 0.25), 0.05, 0.025, bottom=True)

# right column
ax = add_ax(591, 32, 1025, 248)
draw_series(ax, lk_hi, lk_lo, lk_gx, lk_gy, up=(lk_up_x, lk_up_y), dn=(lk_dn_x, lk_dn_y))
style_axis(ax, (-1, 2.5), 1, 0.5)

ax = add_ax(591, 286, 1025, 503)
ax.fill_between(si_band_x, si_band_lo, si_band_hi, step="post", color="black", lw=0, zorder=1)
ax.vlines(si_top7_x, 5, 7, color="black", lw=0.8, zorder=1)
ax.vlines(si_up_x, 5, si_up_y, color="black", lw=0.8, zorder=1)
ax.vlines(si_dn_x, si_dn_y, 5.5, color="black", lw=0.8, zorder=1)
green_line(ax, si_gx, si_gy)
style_axis(ax, (4, 9), 1, 0.5)

ax = add_ax(591, 543, 1025, 760)
draw_series(ax, en_hi, en_lo, en_gx, en_gy, up=(en_up_x, en_up_y), dn=(en_dn_x, en_dn_y))
style_axis(ax, (0.25, 0.9), 0.2, 0.1)

ax = add_ax(591, 782, 1025, 998)
draw_series(ax, cp_hi, cp_lo, cp_gx, cp_gy, up=(cp_up_x, cp_up_y), dn=(cp_dn_x, cp_dn_y))
style_axis(ax, (0, 1.3), 0.4, 0.2, bottom=True)

# panel titles
greek = dict(family=SERIF, size=24, weight="normal")
dash = dict(family=SERIF, size=16, weight="normal")

ftext(86, 33, "Δα", **greek)
ftext(134, 33, "—", **dash)
ftext(292, 47, "multi-fractal singularity\nspectrum support width", size=16,
      ha="center", multialignment="center")

ftext(88, 263, "α", **greek)
ftext(106, 252, "*", family=SERIF, size=14, weight="normal")
ftext(130, 263, "—", **dash)
ftext(158, 278, "multi-fractal generalized\nHurst exponent", size=16, multialignment="left")

ftext(109, 537, "β", **greek)
ftext(137, 539, "–", **dash)
ftext(155, 539, "wavelet-based spectral index", size=16)

ftext(89, 747, "γ", **greek)
ftext(113, 748, "–", **dash)
ftext(132, 762, "wavelet-based\nDonoho-Johnstone share", size=16, multialignment="left")

ftext(623, 22, "Lg(Kurtosis)", size=19, style="italic")
ftext(598, 268, "SI -", size=19, style="italic")
ftext(646, 282, "wavelet-based\nsmoothness index", size=16, multialignment="left")
ftext(602, 542, "En -", size=19, style="italic")
ftext(657, 542, "wavelet-based normalized entropy", size=16)
ftext(600, 776, "c", size=17)
ftext(614, 784, "Pred", size=13.5)
ftext(662, 775, "- index of linear predictability", size=16)

fig.savefig("out.png", dpi=100)
